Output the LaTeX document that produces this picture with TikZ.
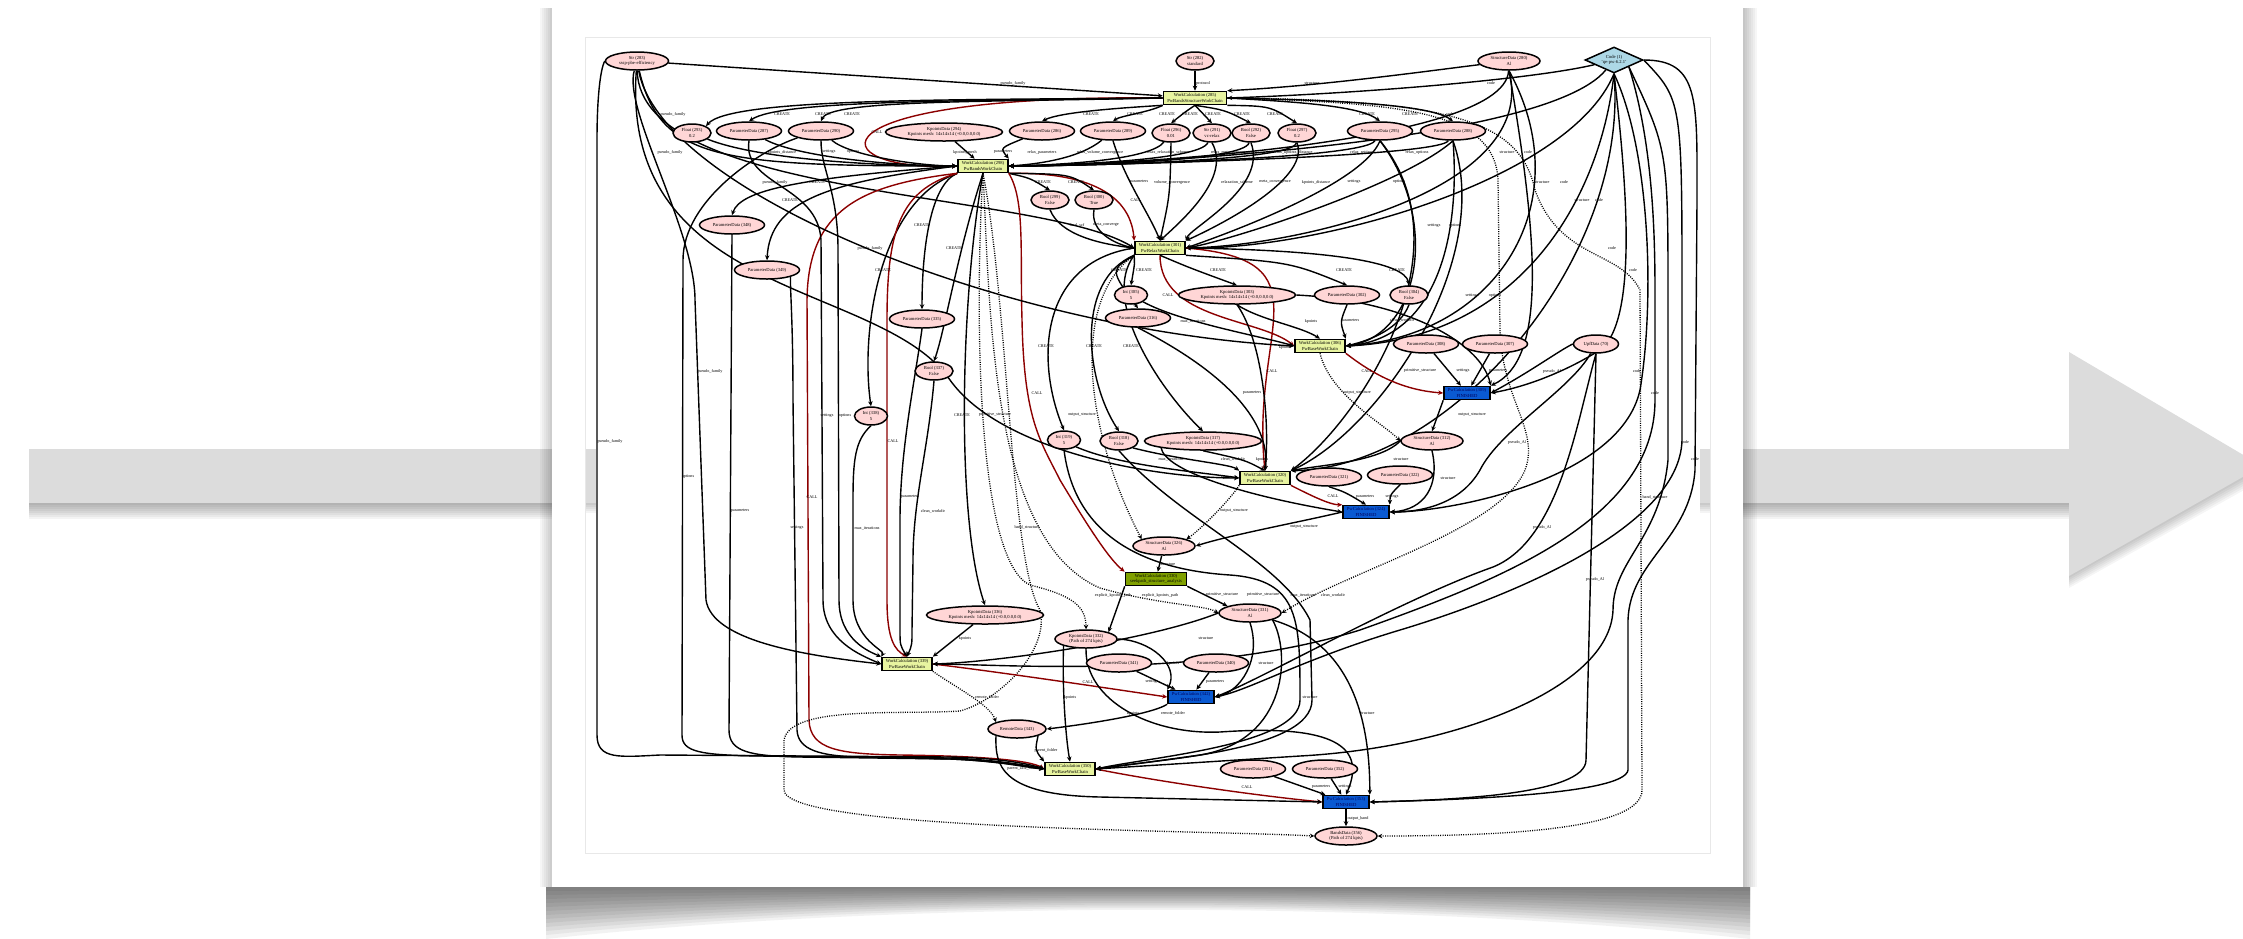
\documentclass[tikz,border=0pt]{standalone}
\usepackage{fontspec}
\setmainfont{Liberation Serif}
\usetikzlibrary{arrows.meta,shapes.geometric}
\pgfdeclarelayer{deco}
\pgfdeclarelayer{edges}
\pgfsetlayers{deco,edges,main}
\definecolor{pinkfill}{RGB}{255,214,214}
\definecolor{wcyellow}{RGB}{232,244,160}
\definecolor{seekolive}{RGB}{128,160,0}
\definecolor{pwblue}{RGB}{10,90,210}
\definecolor{pwtext}{RGB}{0,0,90}
\definecolor{codeblue}{RGB}{173,216,230}
\definecolor{callred}{RGB}{140,0,0}
\definecolor{arrowgray}{RGB}{220,220,220}
\newcommand\gvnode{\fontsize{4.6}{5.4}\selectfont}
\newcommand\gvlab{\fontsize{4.2}{5}\selectfont}
\newcount\elabno
\newcommand\elab[2]{\global\advance\elabno by 1\relax\node[lab] (elab\the\elabno) at (#1) {#2};}
\tikzset{
  dnode/.style={ellipse, draw, line width=1.5pt, fill=pinkfill, inner sep=0pt, minimum height=18pt, font=\gvnode, align=center},
  pnode/.style={dnode, minimum width=65pt},
  snode/.style={dnode, minimum width=38pt},
  inode/.style={dnode, minimum width=33pt},
  knode/.style={dnode, minimum width=117pt},
  mnode/.style={dnode, minimum width=62pt},
  wnode/.style={rectangle, draw, line width=1.6pt, fill=wcyellow, inner sep=1pt, minimum height=13pt, minimum width=50pt, font=\gvnode, align=center},
  onode/.style={wnode, fill=seekolive, minimum width=61pt},
  pwnode/.style={wnode, fill=pwblue, text=pwtext, minimum width=46pt},
  cnode/.style={diamond, aspect=2.2, draw, line width=1.5pt, fill=codeblue, inner sep=0pt, minimum width=58pt, minimum height=26pt, font=\gvnode, align=center},
  e/.style={draw=black, line width=1.4pt, -{Stealth[length=5pt,width=4.5pt]}},
  call/.style={e, draw=callred},
  ret/.style={draw=black, line width=1.3pt, dash pattern=on 1pt off 1.3pt, -{Stealth[length=4.5pt,width=4.5pt]}},
  lab/.style={font=\gvlab, inner sep=0pt},
}
\begin{document}
\begin{tikzpicture}[x=1pt,y=-1pt]
\useasboundingbox (0,0) rectangle (2243,938);
\begin{pgfonlayer}{deco}
  % grey arrow running behind the card
  \foreach \d in {2,4,...,16} {\fill[black,opacity=0.045] (29,503) rectangle (2069,503+\d);}
  \foreach \d in {2,4,...,12} {\fill[black,opacity=0.04] (2069,352+\d) -- (2262+0.3*\d,466+\d) -- (2069,576+\d) -- cycle;}
  \fill[arrowgray] (29,449) rectangle (2070,503);
  \fill[arrowgray] (2069,352) -- (2262,466) -- (2069,576) -- cycle;
  % the card and its shadow
  \foreach \d in {2,4,...,12} {\fill[black,opacity=0.035] (552-\d,8) rectangle (552,887);}
  \foreach \d in {2,4,...,14} {\fill[black,opacity=0.035] (1743,8) rectangle (1743+\d,887);}
  \foreach \d in {4,8,...,52} {\fill[black,opacity=0.05] (546,887) -- (546,887+\d) .. controls (900,887+0.25*\d) and (1400,887+0.25*\d) .. (1750,887+\d) -- (1750,887) -- cycle;}
  \fill[white] (552,6) rectangle (1743,887);
  \fill[arrowgray] (585,449) rectangle (596,503);
  \fill[arrowgray] (1700,449) rectangle (1710,503);
  \foreach \d in {2,4,...,10} {\fill[black,opacity=0.045] (585,503) rectangle (596,503+\d); \fill[black,opacity=0.045] (1700,503) rectangle (1710,503+\d);}
  \draw[black!9, line width=0.8pt] (585,37) rectangle (1710,853);
\end{pgfonlayer}

% ---------------- nodes ----------------
\node[mnode, minimum width=63pt] (s283) at (637,61) {Str (283)\\sssp-pbe-efficiency};
\node[snode] (s282) at (1195,61) {Str (282)\\standard};
\node[mnode] (st280) at (1509,61) {StructureData (280)\\Al};
\node[cnode] (code1) at (1614,60) {Code (1)\\'qe-pw-6.2.1'};
\node[wnode, minimum width=63pt] (w285) at (1195,98) {WorkCalculation (285)\\PwBandsStructureWorkChain};
\node[snode] (f293) at (692,133) {Float (293)\\0.2};
\node[pnode] (p287) at (749,131) {ParameterData (287)};
\node[pnode] (p290) at (821,131) {ParameterData (290)};
\node[knode] (k294) at (944,132) {KpointsData (294)\\Kpoints mesh: 14x14x14 (+0.0,0.0,0.0)};
\node[pnode] (p286) at (1042,131) {ParameterData (286)};
\node[pnode] (p289) at (1113,131) {ParameterData (289)};
\node[snode] (f296) at (1171,133) {Float (296)\\0.01};
\node[snode] (s291) at (1212,133) {Str (291)\\vc-relax};
\node[snode] (b292) at (1251,133) {Bool (292)\\False};
\node[snode] (f297) at (1297,133) {Float (297)\\0.2};
\node[pnode] (p295) at (1380,131) {ParameterData (295)};
\node[pnode] (p288) at (1453,131) {ParameterData (288)};
\node[wnode] (w298) at (983,166) {WorkCalculation (298)\\PwBandsWorkChain};
\node[snode] (b299) at (1050,200) {Bool (299)\\False};
\node[snode] (b300) at (1094,200) {Bool (300)\\True};
\node[pnode] (p348) at (732,225) {ParameterData (348)};
\node[pnode] (p349) at (767,270) {ParameterData (349)};
\node[wnode] (w301) at (1160,248) {WorkCalculation (301)\\PwRelaxWorkChain};
\node[inode] (i305) at (1131,295) {Int (305)\\5};
\node[knode] (k303) at (1237,295) {KpointsData (303)\\Kpoints mesh: 14x14x14 (+0.0,0.0,0.0)};
\node[pnode] (p302) at (1347,295) {ParameterData (302)};
\node[snode] (b304) at (1409,295) {Bool (304)\\False};
\node[pnode] (p316) at (1138,318) {ParameterData (316)};
\node[pnode] (p335) at (922,319) {ParameterData (335)};
\node[wnode] (w306) at (1320,346) {WorkCalculation (306)\\PwBaseWorkChain};
\node[pnode] (p308) at (1426,344) {ParameterData (308)};
\node[pnode] (p307) at (1495,344) {ParameterData (307)};
\node[dnode, minimum width=45pt] (u70) at (1596,344) {UpfData (70)};
\node[snode] (b337) at (934,371) {Bool (337)\\False};
\node[pwnode] (pw309) at (1467,393) {PwCalculation (309)\\FINISHED};
\node[inode] (i338) at (871,416) {Int (338)\\5};
\node[inode] (i319) at (1064,440) {Int (319)\\5};
\node[snode] (b318) at (1119,441) {Bool (318)\\False};
\node[knode] (k317) at (1203,441) {KpointsData (317)\\Kpoints mesh: 14x14x14 (+0.0,0.0,0.0)};
\node[mnode] (st312) at (1432,441) {StructureData (312)\\Al};
\node[pnode] (p322) at (1400,475) {ParameterData (322)};
\node[wnode] (w320) at (1265,478) {WorkCalculation (320)\\PwBaseWorkChain};
\node[pnode] (p321) at (1329,477) {ParameterData (321)};
\node[pwnode] (pw324) at (1366,512) {PwCalculation (324)\\FINISHED};
\node[mnode] (st326) at (1164,546) {StructureData (326)\\Al};
\node[onode] (w330) at (1156,579) {WorkCalculation (330)\\seekpath\_structure\_analysis};
\node[knode] (k336) at (985,615) {KpointsData (336)\\Kpoints mesh: 14x14x14 (+0.0,0.0,0.0)};
\node[mnode] (st331) at (1250,613) {StructureData (331)\\Al};
\node[mnode] (k332) at (1086,639) {KpointsData (332)\\(Path of 274 kpts)};
\node[pnode] (p341) at (1119,663) {ParameterData (341)};
\node[pnode] (p340) at (1216,663) {ParameterData (340)};
\node[wnode] (w339) at (907,664) {WorkCalculation (339)\\PwBaseWorkChain};
\node[pwnode] (pw342) at (1191,697) {PwCalculation (342)\\FINISHED};
\node[dnode, minimum width=58pt] (r343) at (1017,729) {RemoteData (343)};
\node[wnode] (w350) at (1070,769) {WorkCalculation (350)\\PwBaseWorkChain};
\node[pnode] (p351) at (1253,769) {ParameterData (351)};
\node[pnode] (p352) at (1325,769) {ParameterData (352)};
\node[pwnode] (pw353) at (1346,802) {PwCalculation (353)\\FINISHED};
\node[mnode] (bd356) at (1346,836) {BandsData (356)\\(Path of 274 kpts)};

% ---------------- links ----------------
\begin{pgfonlayer}{edges}
% inputs of the band-structure workchain
\draw[e] (s283) -- (w285);
\draw[e] (s282) -- (w285);
\draw[e] (st280) .. controls (1420,72) and (1320,86) .. (w285.north east);
\draw[e] (code1) .. controls (1530,80) and (1350,94) .. (w285.east);
\draw[call] (w285.west) .. controls (800,94) and (820,172) .. (w298.west);
% data created by 285
\draw[e] (w285.west) .. controls (950,100) and (730,98) .. (f293.north east);
\draw[e] (w285.west) .. controls (960,101) and (780,100) .. (p287.north);
\draw[e] (w285.west) .. controls (980,102) and (830,100) .. (p290.north);
\draw[e] (w285.south west) .. controls (1120,108) and (1060,112) .. (p286.north);
\draw[e] (w285.south west) .. controls (1150,112) and (1120,116) .. (p289.north);
\draw[e] (w285.south) .. controls (1185,112) .. (f296.north);
\draw[e] (w285.south) -- (s291.north);
\draw[e] (w285.south) .. controls (1225,110) .. (b292.north);
\draw[e] (w285.south east) .. controls (1270,106) .. (f297.north);
\draw[e] (w285.east) .. controls (1300,102) and (1360,106) .. (p295.north);
\draw[e] (w285.east) .. controls (1330,100) and (1430,104) .. (p288.north);
% inputs of 298
\draw[e] (s283) .. controls (660,160) and (720,166) .. (w298.west);
\draw[e] (f293) .. controls (760,160) and (880,166) .. (w298.west);
\draw[e] (p287) .. controls (800,158) and (900,166) .. (w298.west);
\draw[e] (p290) .. controls (850,156) and (920,166) .. (w298.west);
\draw[e] (k294) -- (w298);
\draw[e] (p286) .. controls (1000,148) .. (w298.north east);
\draw[e] (p289) .. controls (1080,158) and (1040,164) .. (w298.east);
\draw[e] (f296) .. controls (1150,160) and (1060,165) .. (w298.east);
\draw[e] (s291) .. controls (1200,161) and (1060,165) .. (w298.east);
\draw[e] (b292) .. controls (1245,162) and (1060,166) .. (w298.east);
\draw[e] (f297) .. controls (1295,162) and (1060,166) .. (w298.east);
\draw[e] (p295) .. controls (1365,160) and (1060,166) .. (w298.east);
\draw[e] (p288) .. controls (1440,158) and (1060,166) .. (w298.east);
\draw[e] (st280) .. controls (1505,150) and (1060,167) .. (w298.east);
\draw[e] (code1) .. controls (1540,150) and (1060,167) .. (w298.east);
% relax workchain 301
\draw[call] (w298.south east) .. controls (1080,172) and (1130,190) .. (w301.north west);
\draw[e] (w298.south east) .. controls (1030,178) .. (b299.north);
\draw[e] (w298.south east) .. controls (1070,174) .. (b300.north);
\draw[e] (b299.south) .. controls (1060,235) and (1100,244) .. (w301.west);
\draw[e] (b300.south) .. controls (1090,232) and (1115,244) .. (w301.west);
\draw[e] (p289.south) .. controls (1125,180) and (1150,215) .. (w301.north);
\draw[e] (f296.south) .. controls (1170,195) .. (w301.north);
\draw[e] (s291.south) .. controls (1232,178) and (1180,222) .. (w301.north);
\draw[e] (b292.south) .. controls (1268,188) and (1190,228) .. (w301.north east);
\draw[e] (f297.south) .. controls (1312,182) and (1205,232) .. (w301.north east);
\draw[e] (p295.south) .. controls (1362,186) and (1215,238) .. (w301.east);
\draw[e] (p288.south) .. controls (1402,186) and (1225,242) .. (w301.east);
\draw[e] (st280.south) .. controls (1540,190) and (1300,246) .. (w301.east);
\draw[e] (code1.south) .. controls (1570,180) and (1320,250) .. (w301.east);
\draw[e] (s283) .. controls (640,200) and (1040,190) .. (w301.west);
\draw[call] (w301.south) .. controls (1160,320) and (1260,318) .. (w306.west);
\draw[call] (w301.east) .. controls (1330,260) and (1250,330) .. (w320.north);
\draw[e] (w301.south west) .. controls (1135,262) .. (i305.north);
\draw[e] (w301.south) .. controls (1190,268) .. (k303.north);
\draw[e] (w301.south east) .. controls (1290,262) .. (p302.north);
\draw[e] (w301.east) .. controls (1330,250) and (1405,262) .. (b304.north);
\draw[e] (w301.south west) .. controls (1110,270) .. (p316.north);
\draw[e] (w301.west) .. controls (1040,262) and (1035,360) .. (i319.north);
\draw[e] (w301.south west) .. controls (1075,280) and (1085,380) .. (b318.north);
\draw[e] (w301.south west) .. controls (1100,300) and (1160,390) .. (k317.north);
% data created by 298
\draw[e] (w298.south west) .. controls (930,185) and (922,250) .. (p335.north);
\draw[e] (w298.west) .. controls (800,178) and (740,190) .. (p348.north);
\draw[e] (w298.west) .. controls (830,182) and (770,200) .. (p349.north);
\draw[e] (w298.south) .. controls (958,250) and (945,330) .. (b337.north);
\draw[e] (w298.south west) .. controls (880,200) and (860,330) .. (i338.north);
\draw[e] (w298.south) .. controls (960,300) and (956,520) .. (k336.north);
% calls issued by 298
\draw[call] (w298.south east) .. controls (1025,200) and (1020,250) .. (1022,320) .. controls (1024,420) and (1040,440) .. (1060,480) .. controls (1090,530) and (1110,560) .. (w330.north west);
\draw[call] (w298.south west) .. controls (900,190) and (887,230) .. (887,320) -- (887,600) .. controls (887,640) and (895,650) .. (w339.north);
\draw[call] (w298.south west) .. controls (860,185) and (808,210) .. (807,300) -- (809,720) .. controls (810,750) and (840,754) .. (900,755) .. controls (980,756) and (1030,760) .. (w350.west);
% base workchain 306
\draw[e] (i305.south east) .. controls (1180,322) and (1260,336) .. (w306.west);
\draw[e] (k303.south) .. controls (1260,320) and (1300,326) .. (w306.north);
\draw[e] (p302.south) .. controls (1340,322) .. (w306.north east);
\draw[e] (b304.south) .. controls (1400,328) and (1372,340) .. (w306.east);
\draw[e] (p295.south) .. controls (1440,220) and (1420,336) .. (w306.east);
\draw[e] (p288.south) .. controls (1460,230) and (1440,338) .. (w306.east);
\draw[e] (st280.south) .. controls (1580,200) and (1500,336) .. (w306.east);
\draw[e] (code1.south) .. controls (1600,200) and (1520,338) .. (w306.east);
\draw[e] (s283) .. controls (660,190) and (1000,330) .. (w306.west);
% base workchain 320
\draw[e] (i319.south east) .. controls (1120,466) and (1200,472) .. (w320.west);
\draw[e] (b318.south east) .. controls (1180,460) and (1230,464) .. (w320.north west);
\draw[e] (k317.south) .. controls (1245,460) .. (w320.north);
\draw[e] (p316.south) .. controls (1240,380) and (1270,430) .. (w320.north);
\draw[e] (k303.south) .. controls (1262,340) and (1270,420) .. (w320.north);
\draw[e] (st312.west) .. controls (1380,462) and (1320,465) .. (w320.north east);
\draw[e] (p295.south) .. controls (1470,250) and (1360,420) .. (w320.north east);
\draw[e] (p288.south) .. controls (1495,260) and (1380,430) .. (w320.north east);
\draw[e] (code1.south) .. controls (1630,260) and (1450,468) .. (w320.north east);
\draw[e] (s283) .. controls (620,300) and (880,280) .. (950,380) .. controls (1000,450) and (1150,478) .. (w320.west);
% pw calculation 309
\draw[call] (w306.south east) .. controls (1370,372) and (1400,390) .. (pw309.west);
\draw[e] (p308) -- (pw309);
\draw[e] (p307) -- (pw309);
\draw[e] (u70.west) .. controls (1560,350) and (1530,372) .. (pw309.east);
\draw[e] (code1.south) .. controls (1625,170) and (1640,320) .. (1600,350) .. controls (1560,375) and (1520,388) .. (pw309.east);
\draw[e] (st280.south) .. controls (1540,250) and (1545,360) .. (pw309.north east);
\draw[e] (k303.east) .. controls (1400,300) and (1480,340) .. (pw309.north east);
\draw[e] (pw309.south west) -- (st312.north);
\draw[ret] (w306.south) .. controls (1330,395) and (1385,425) .. (st312.west);
% pw calculation 324
\draw[call] (w320.south east) .. controls (1310,495) and (1330,505) .. (pw324.north west);
\draw[e] (p321.south) .. controls (1345,492) .. (pw324.north);
\draw[e] (p322.south) .. controls (1390,495) .. (pw324.north east);
\draw[e] (st312.south) .. controls (1440,485) and (1425,510) .. (pw324.east);
\draw[e] (u70) .. controls (1570,390) and (1500,430) .. (1480,470) .. controls (1460,505) and (1420,512) .. (pw324.east);
\draw[e] (code1.south) .. controls (1650,150) and (1655,300) .. (1640,390) .. controls (1620,480) and (1450,512) .. (pw324.east);
\draw[e] (k317.south west) .. controls (1165,470) and (1240,495) .. (pw324.west);
% relaxed structure and seekpath
\draw[e] (pw324.west) .. controls (1300,522) and (1230,535) .. (st326.east);
\draw[ret] (w320.south west) .. controls (1230,500) and (1200,530) .. (st326.north east);
\draw[ret] (w301.south west) .. controls (1070,300) and (1085,430) .. (st326.north west);
\draw[e] (st326) -- (w330);
\draw[e] (w330.south west) -- (k332.north east);
\draw[e] (w330.south east) -- (st331.north west);
% returned outputs
\draw[ret] (w298.south) .. controls (975,300) and (975,560) .. (1030,585) .. controls (1070,595) and (1086,605) .. (k332.north);
\draw[ret] (w298.south) .. controls (990,300) and (988,540) .. (1100,588) .. controls (1160,605) and (1205,605) .. (st331.west);
\draw[ret] (w285.east) .. controls (1400,103) and (1495,110) .. (1498,180) -- (1500,330) .. controls (1502,400) and (1540,430) .. (1525,470) .. controls (1500,530) and (1350,570) .. (st331.east);
\draw[ret] (w285.east) .. controls (1450,100) and (1520,120) .. (1535,190) .. controls (1560,260) and (1620,250) .. (1640,290) -- (1642,790) .. controls (1642,830) and (1500,836) .. (bd356.east);
\draw[ret] (w298.south) .. controls (1008,300) and (1010,560) .. (1040,610) .. controls (1050,650) and (1000,700) .. (960,711) .. controls (900,715) and (790,705) .. (784,740) -- (784,790) .. controls (785,830) and (1200,830) .. (bd356.west);
\draw[ret] (w339.south east) .. controls (960,690) and (990,705) .. (r343.north west);
% scf workchain 339
\draw[call] (w339.east) .. controls (1000,672) and (1120,690) .. (pw342.west);
\draw[e] (s283) .. controls (623,110) and (695,230) .. (695,300) -- (706,600) .. controls (712,640) and (800,655) .. (w339.west);
\draw[e] (p287.south) .. controls (742,185) and (818,185) .. (821,240) -- (823,600) .. controls (823,640) and (860,655) .. (w339.west);
\draw[e] (p290.south) .. controls (821,170) and (838,190) .. (838,250) -- (839,600) .. controls (839,640) and (870,652) .. (w339.north west);
\draw[e] (i338.south) .. controls (855,440) and (853,460) .. (853,500) -- (853,600) .. controls (853,640) and (885,650) .. (w339.north west);
\draw[e] (p335.south) .. controls (915,380) and (900,450) .. (900,520) -- (900,630) .. controls (900,645) .. (w339.north);
\draw[e] (b337.south) .. controls (928,450) and (913,500) .. (913,560) -- (912,630) .. controls (912,645) .. (w339.north);
\draw[e] (k336) -- (w339.north east);
\draw[e] (st331.west) .. controls (1150,640) and (1000,662) .. (w339.east);
\draw[e] (code1.south east) .. controls (1655,150) and (1655,250) .. (1655,300) -- (1655,400) .. controls (1655,520) and (1500,580) .. (1360,630) .. controls (1200,680) and (1000,664) .. (w339.east);
% bands workchain 350
\draw[call] (w350.east) .. controls (1150,780) and (1250,795) .. (pw353.west);
\draw[e] (s283.west) .. controls (600,70) and (597,100) .. (597,140) -- (597,735) .. controls (597,760) and (620,757) .. (660,755) -- (950,757) .. controls (1000,758) and (1030,764) .. (w350.west);
\draw[e] (p290.south west) .. controls (760,150) and (683,200) .. (683,260) -- (682,735) .. controls (682,752) and (700,755) .. (760,756) -- (950,758) .. controls (1000,760) and (1030,766) .. (w350.west);
\draw[e] (p348.south) -- (729,730) .. controls (729,752) and (750,756) .. (800,757) -- (950,759) .. controls (1000,761) and (1030,767) .. (w350.west);
\draw[e] (p349.south east) .. controls (790,290) and (793,320) .. (793,400) -- (797,730) .. controls (798,750) and (820,756) .. (860,757) -- (950,759) .. controls (1000,761) and (1030,768) .. (w350.west);
\draw[e] (k332.south west) .. controls (1062,690) and (1066,740) .. (w350.north);
\draw[e] (r343.south east) .. controls (1035,750) .. (w350.north west);
\draw[e] (i319.south) .. controls (1075,540) and (1150,570) .. (1230,575) .. controls (1300,580) and (1300,620) .. (1300,700) .. controls (1300,745) and (1150,757) .. (w350.east);
\draw[e] (b318.south) .. controls (1180,520) and (1280,560) .. (1310,620) -- (1312,700) .. controls (1312,752) and (1150,760) .. (w350.east);
\draw[e] (st331.south east) .. controls (1290,650) and (1290,740) .. (1200,755) .. controls (1150,762) and (1120,766) .. (w350.east);
\draw[e] (code1.south east) .. controls (1668,150) .. (1668,300) -- (1668,460) .. controls (1660,540) and (1613,560) .. (1613,610) .. controls (1610,690) and (1450,748) .. (1300,756) .. controls (1200,762) .. (w350.east);
% pw calculations 342 and 353
\draw[e] (k332.east) .. controls (1150,640) and (1180,665) .. (pw342.north west);
\draw[e] (p341) -- (pw342);
\draw[e] (p340) -- (pw342);
\draw[e] (st331.south) .. controls (1262,660) and (1240,692) .. (pw342.east);
\draw[e] (u70.south) .. controls (1577,420) and (1560,540) .. (1493,567) .. controls (1400,600) and (1260,680) .. (pw342.east);
\draw[e] (code1.east) .. controls (1682,100) .. (1682,300) -- (1682,440) .. controls (1680,530) and (1500,600) .. (1400,630) .. controls (1300,660) and (1250,690) .. (pw342.east);
\draw[e] (pw342.south west) .. controls (1150,715) and (1080,725) .. (r343.east);
\draw[e] (p351) -- (pw353);
\draw[e] (p352) -- (pw353);
\draw[e] (st331.south east) .. controls (1340,640) and (1370,700) .. (pw353.north east);
\draw[e] (k332.south) .. controls (1085,700) and (1150,735) .. (1220,732) .. controls (1320,725) and (1370,740) .. (pw353.north);
\draw[e] (r343.south west) .. controls (995,765) and (1000,795) .. (1100,797) -- (pw353.west);
\draw[e] (u70.south) -- (1586,760) .. controls (1586,795) and (1450,800) .. (pw353.east);
\draw[e] (code1.east) .. controls (1700,60) and (1697,100) .. (1697,200) -- (1695,470) .. controls (1690,540) and (1630,560) .. (1628,620) -- (1628,770) .. controls (1625,795) and (1450,800) .. (pw353.east);
\draw[e] (pw353) -- (bd356);
\end{pgfonlayer}

% ---------------- link labels ----------------
\elab{1013,83}{pseudo\_family}
\elab{1203,83}{protocol}
\elab{1312,83}{structure}
\elab{1491,83}{code}
\elab{673,114}{pseudo\_family}
\elab{782,114}{CREATE}\elab{823,114}{CREATE}\elab{852,114}{CREATE}
\elab{1091,114}{CREATE}\elab{1135,114}{CREATE}\elab{1167,114}{CREATE}\elab{1190,114}{CREATE}
\elab{1213,114}{CREATE}\elab{1242,114}{CREATE}\elab{1275,114}{CREATE}\elab{1367,114}{CREATE}\elab{1410,114}{CREATE}
\elab{1450,114}{code}
\elab{877,132}{CALL}
\elab{670,152}{pseudo\_family}\elab{782,152}{kpoints\_distance}\elab{829,152}{settings}\elab{853,152}{options}
\elab{965,152}{kpoints\_mesh}\elab{1003,152}{parameters}\elab{1042,152}{relax\_parameters}
\elab{1100,152}{relax\_volume\_convergence}\elab{1168,152}{relax\_relaxation\_scheme}
\elab{1232,152}{relax\_meta\_convergence}\elab{1293,152}{relax\_kpoints\_distance}
\elab{1362,152}{relax\_settings}\elab{1417,152}{relax\_options}\elab{1507,152}{structure}\elab{1528,152}{code}
\elab{775,182}{pseudo\_family}\elab{817,182}{CREATE}\elab{1043,182}{CREATE}\elab{1076,182}{CREATE}
\elab{1139,182}{parameters}\elab{1172,182}{volume\_convergence}\elab{1237,182}{relaxation\_scheme}
\elab{1275,182}{meta\_convergence}\elab{1316,182}{kpoints\_distance}\elab{1354,182}{settings}
\elab{1399,182}{options}\elab{1542,182}{structure}\elab{1564,182}{code}
\elab{790,200}{CREATE}\elab{1136,200}{CALL}\elab{1582,200}{structure}\elab{1599,200}{code}
\elab{922,225}{CREATE}\elab{1077,225}{final\_scf}\elab{1106,225}{meta\_converge}\elab{1434,226}{settings}\elab{1455,226}{options}
\elab{870,248}{pseudo\_family}\elab{954,248}{CREATE}\elab{1612,248}{code}
\elab{883,270}{CREATE}\elab{1119,270}{CREATE}\elab{1144,270}{CREATE}\elab{1218,270}{CREATE}
\elab{1344,270}{CREATE}\elab{1397,270}{CREATE}\elab{1633,270}{code}
\elab{1168,295}{CALL}\elab{1472,296}{settings}\elab{1495,296}{options}
\elab{1193,321}{max\_iterations}\elab{1311,321}{kpoints}\elab{1350,321}{parameters}\elab{1402,320}{clean\_workdir}
\elab{1046,346}{CREATE}\elab{1094,346}{CREATE}\elab{1131,346}{CREATE}\elab{1285,347}{kpoints}
\elab{710,371}{pseudo\_family}\elab{1272,371}{CALL}\elab{1367,371}{CALL}\elab{1420,371}{primitive\_structure}
\elab{1463,371}{settings}\elab{1498,371}{parameters}\elab{1552,371}{pseudo\_Al}\elab{1637,371}{code}
\elab{1037,393}{CALL}\elab{1252,393}{parameters}\elab{1357,393}{output\_structure}\elab{1655,393}{code}
\elab{827,416}{settings}\elab{845,416}{options}\elab{962,415}{CREATE}\elab{995,415}{primitive\_structure}
\elab{1082,415}{output\_structure}\elab{1472,415}{output\_structure}
\elab{610,441}{pseudo\_family}\elab{893,441}{CALL}\elab{1517,442}{pseudo\_Al}\elab{1685,442}{code}
\elab{1171,459}{max\_iterations}\elab{1233,459}{clean\_workdir}\elab{1262,459}{kpoints}\elab{1401,459}{structure}\elab{1695,459}{code}
\elab{688,477}{options}\elab{1227,477}{kpoints}\elab{1448,478}{structure}
\elab{812,497}{CALL}\elab{910,497}{parameters}\elab{1333,496}{CALL}\elab{1365,497}{parameters}\elab{1392,497}{settings}\elab{1655,497}{band\_structure}
\elab{740,511}{parameters}\elab{933,511}{clean\_workdir}\elab{1234,511}{output\_structure}
\elab{797,528}{settings}\elab{867,528}{max\_iterations}\elab{1027,527}{band\_structure}\elab{1304,527}{output\_structure}\elab{1542,527}{pseudo\_Al}
\elab{1168,564}{structure}
\elab{1595,579}{pseudo\_Al}
\elab{1113,595}{explicit\_kpoints\_path}\elab{1160,595}{explicit\_kpoints\_path}\elab{1222,595}{primitive\_structure}
\elab{1263,595}{primitive\_structure}\elab{1303,595}{max\_iterations}\elab{1333,595}{clean\_workdir}
\elab{1206,638}{structure}\elab{965,638}{kpoints}
\elab{1173,663}{kpoints}\elab{1266,663}{structure}
\elab{1088,682}{CALL}\elab{1152,682}{settings}\elab{1215,682}{parameters}
\elab{987,697}{remote\_folder}\elab{1070,697}{kpoints}\elab{1310,697}{structure}
\elab{1133,713}{kpoints}\elab{1173,713}{remote\_folder}\elab{1367,713}{structure}
\elab{1046,750}{parent\_folder}
\elab{1023,768}{parent\_calc\_folder}
\elab{1247,787}{CALL}\elab{1321,787}{parameters}\elab{1345,787}{settings}
\elab{1358,818}{output\_band}
\end{tikzpicture}
\end{document}
